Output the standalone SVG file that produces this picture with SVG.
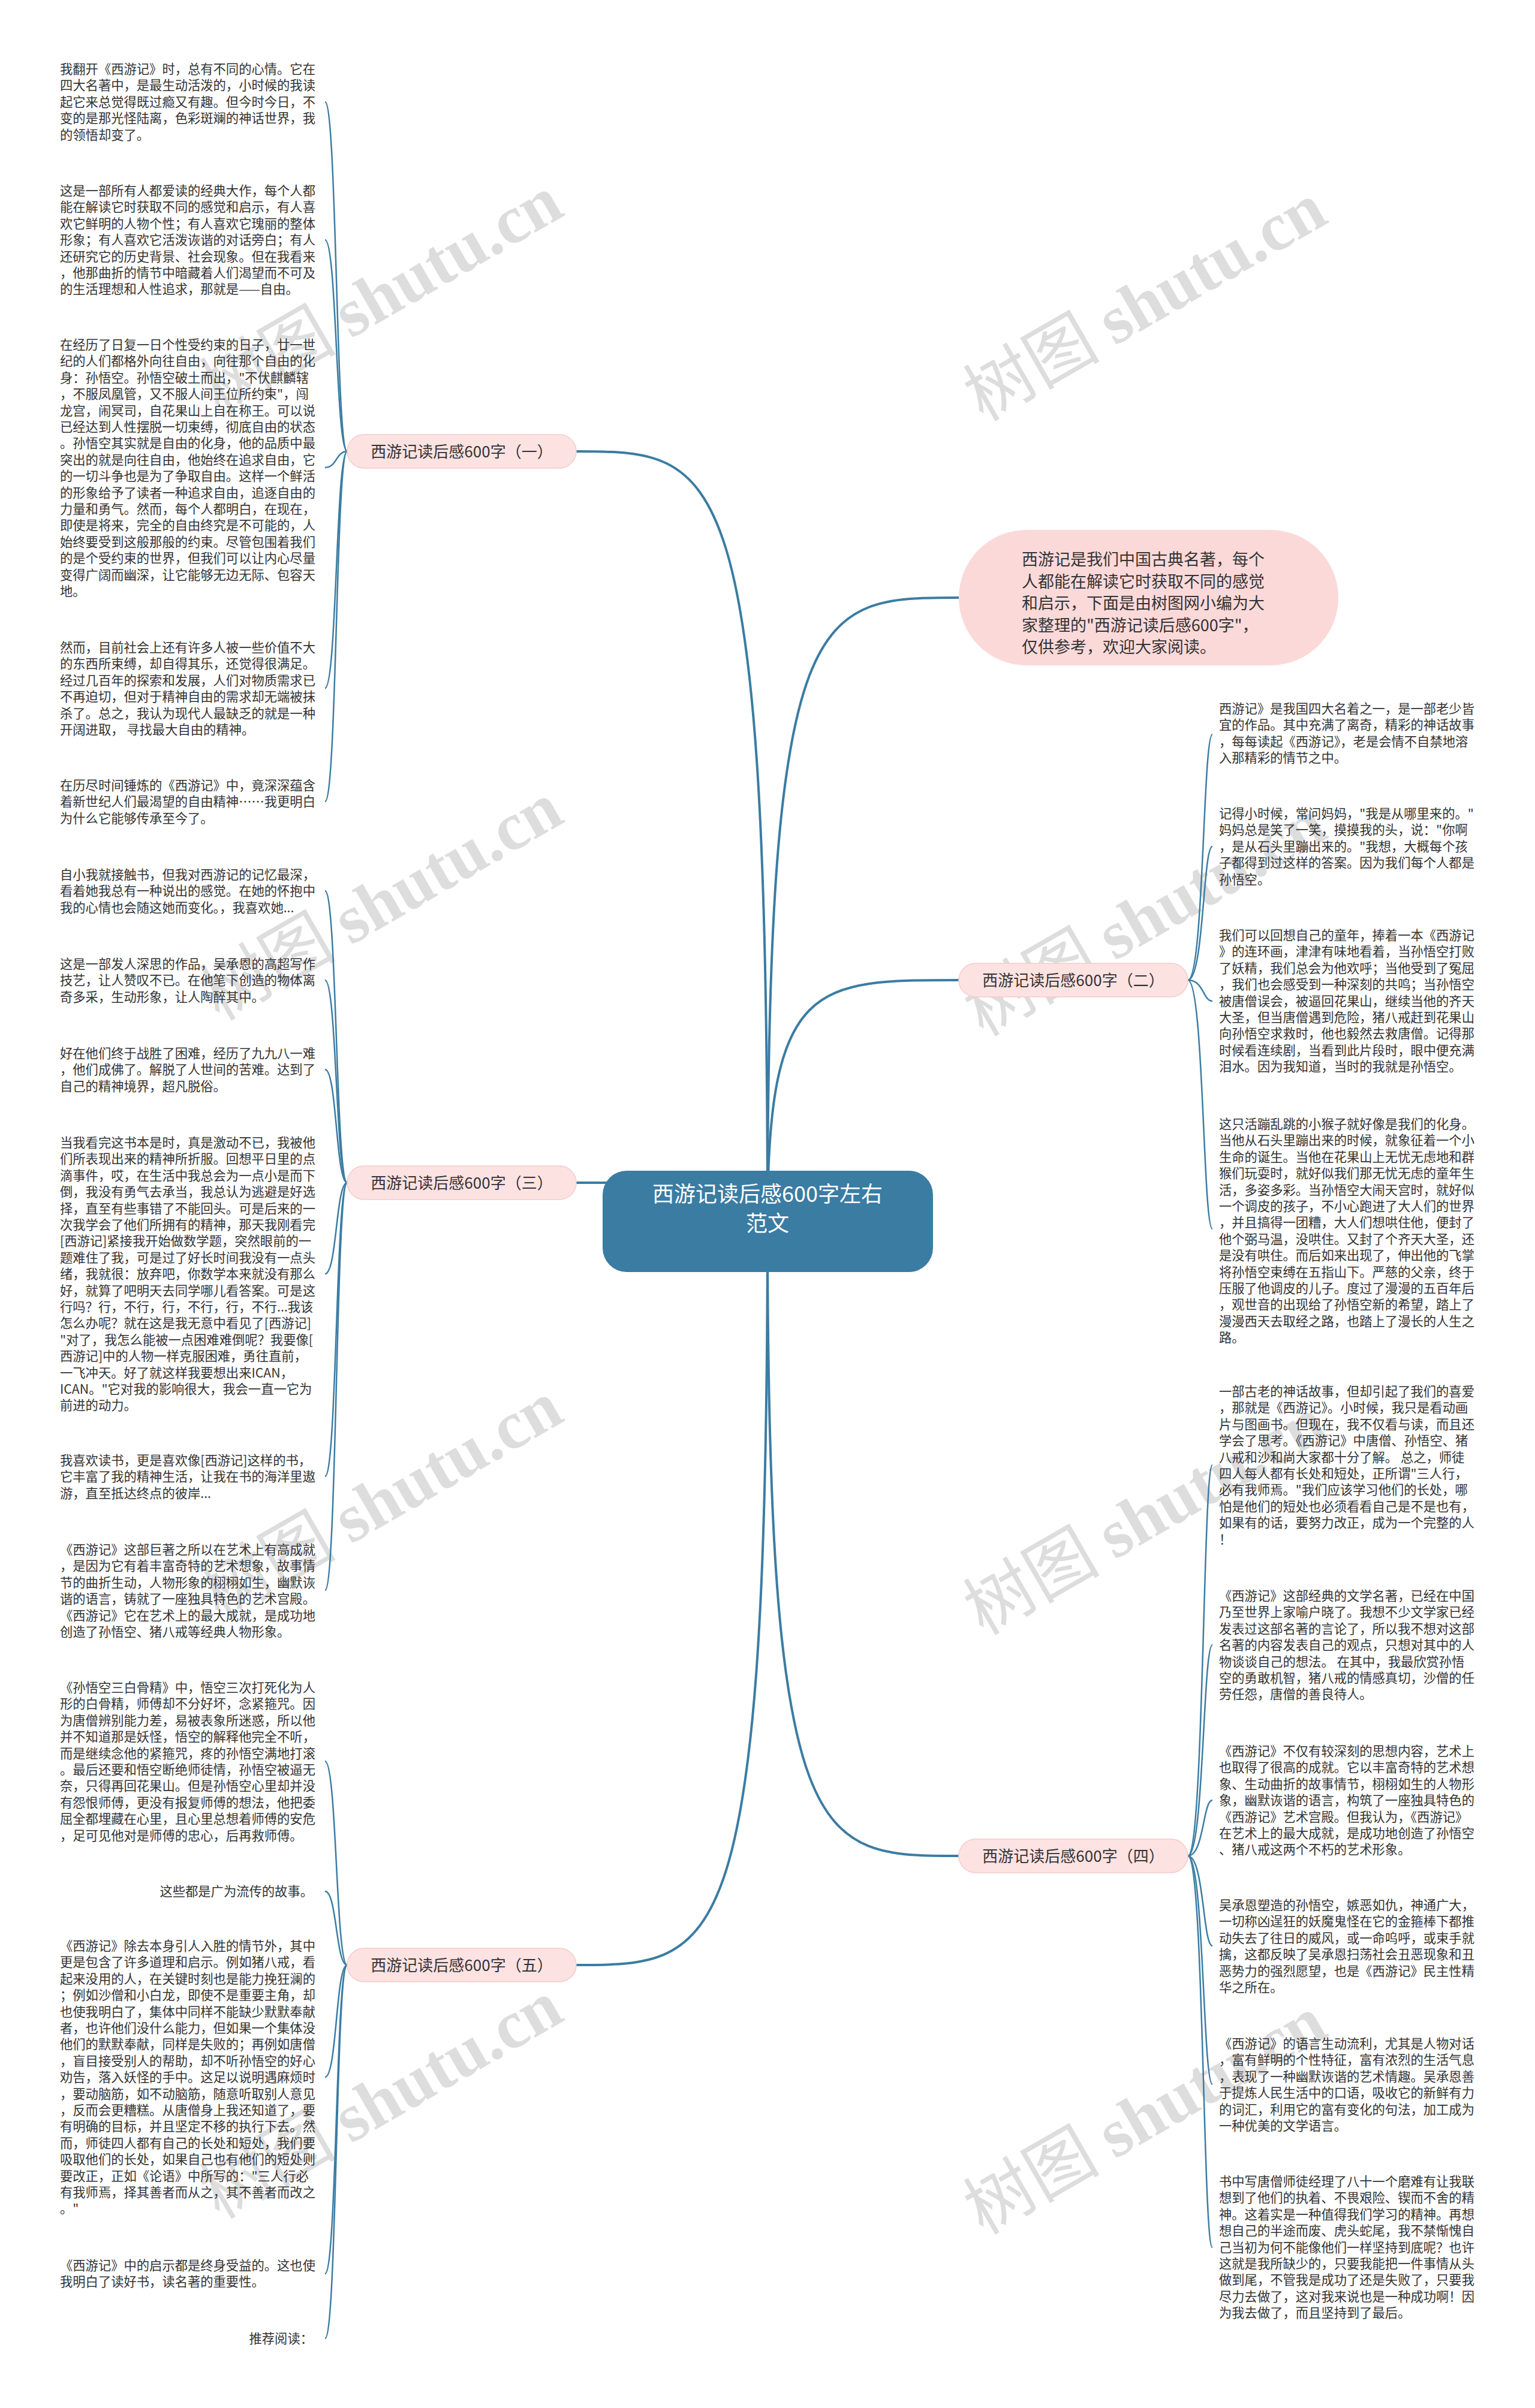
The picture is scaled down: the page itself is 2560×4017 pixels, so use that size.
<svg xmlns="http://www.w3.org/2000/svg" width="2560" height="4017" viewBox="0 0 2560 4017">
<style>
.t{font-family:"Noto Sans CJK SC","Noto Sans",sans-serif;font-size:21.3px;fill:#333}
.b{font-family:"Noto Sans CJK SC","Noto Sans",sans-serif;font-size:26px;fill:#333;text-anchor:middle}
.c{font-family:"Noto Sans CJK SC","Noto Sans",sans-serif;font-size:36px;fill:#fff;text-anchor:middle}
.i{font-family:"Noto Sans CJK SC","Noto Sans",sans-serif;font-size:27px;fill:#333}
.wm{font-family:"Noto Sans CJK SC",sans-serif;font-size:114px;fill:#c8c8c8;opacity:0.6;text-anchor:middle}
.wm .s{font-family:"Liberation Serif",serif;font-weight:bold}
.m{fill:none;stroke:#3b7ca3;stroke-width:4}
.l{fill:none;stroke:#3b7ca3;stroke-width:2.5}
.bn{fill:#fde2e2;stroke:#f7caca;stroke-width:1.5}
</style>
<g id="watermarks">
<text class="wm" transform="translate(655,525) rotate(-30)">树图 <tspan class="s">shutu.cn</tspan></text>
<text class="wm" transform="translate(1929,537) rotate(-30)">树图 <tspan class="s">shutu.cn</tspan></text>
<text class="wm" transform="translate(655,1537) rotate(-30)">树图 <tspan class="s">shutu.cn</tspan></text>
<text class="wm" transform="translate(1929,1563) rotate(-30)">树图 <tspan class="s">shutu.cn</tspan></text>
<text class="wm" transform="translate(655,2536) rotate(-30)">树图 <tspan class="s">shutu.cn</tspan></text>
<text class="wm" transform="translate(1929,2562) rotate(-30)">树图 <tspan class="s">shutu.cn</tspan></text>
<text class="wm" transform="translate(655,3536) rotate(-30)">树图 <tspan class="s">shutu.cn</tspan></text>
<text class="wm" transform="translate(1929,3562) rotate(-30)">树图 <tspan class="s">shutu.cn</tspan></text>
</g>
<g id="connectors">
<path class="m" d="M1280,2037 C1280,753 1200,753 961,753"/>
<path class="m" d="M1280,2037 C1280,1973 1200,1973 961,1973"/>
<path class="m" d="M1280,2037 C1280,3278 1200,3278 961,3278"/>
<path class="m" d="M1280,2037 C1280,997 1360,997 1599,997"/>
<path class="m" d="M1280,2037 C1280,1635 1360,1635 1599,1635"/>
<path class="m" d="M1280,2037 C1280,3096 1360,3096 1599,3096"/>
<path class="l" d="M579,753 C560,753 562,170 542,170"/>
<path class="l" d="M579,753 C560,753 562,400 542,400"/>
<path class="l" d="M579,753 C560,753 562,780 542,780"/>
<path class="l" d="M579,753 C560,753 562,1148 542,1148"/>
<path class="l" d="M579,753 C560,753 562,1337 542,1337"/>
<path class="l" d="M579,1973 C560,1973 562,1486 542,1486"/>
<path class="l" d="M579,1973 C560,1973 562,1635 542,1635"/>
<path class="l" d="M579,1973 C560,1973 562,1784 542,1784"/>
<path class="l" d="M579,1973 C560,1973 562,2125 542,2125"/>
<path class="l" d="M579,1973 C560,1973 562,2463 542,2463"/>
<path class="l" d="M579,1973 C560,1973 562,2653 542,2653"/>
<path class="l" d="M579,3278 C560,3278 562,2938 542,2938"/>
<path class="l" d="M579,3278 C560,3278 562,3155 542,3155"/>
<path class="l" d="M579,3278 C560,3278 562,3465 542,3465"/>
<path class="l" d="M579,3278 C560,3278 562,3793 542,3793"/>
<path class="l" d="M579,3278 C560,3278 562,3901 542,3901"/>
<path class="l" d="M1981,1635 C2008,1635 2006,1225 2022,1225"/>
<path class="l" d="M1981,1635 C2008,1635 2006,1412 2022,1412"/>
<path class="l" d="M1981,1635 C2008,1635 2006,1670 2022,1670"/>
<path class="l" d="M1981,1635 C2008,1635 2006,2050 2022,2050"/>
<path class="l" d="M1981,3096 C2008,3096 2006,2444 2022,2444"/>
<path class="l" d="M1981,3096 C2008,3096 2006,2744 2022,2744"/>
<path class="l" d="M1981,3096 C2008,3096 2006,3003 2022,3003"/>
<path class="l" d="M1981,3096 C2008,3096 2006,3246 2022,3246"/>
<path class="l" d="M1981,3096 C2008,3096 2006,3477 2022,3477"/>
<path class="l" d="M1981,3096 C2008,3096 2006,3749 2022,3749"/>
</g>
<g id="center">
<rect x="1005" y="1953" width="551" height="169" rx="40" fill="#3b7ca3"/>
<text class="c" x="1280" y="2005">西游记读后感600字左右</text>
<text class="c" x="1280" y="2054">范文</text>
</g>
<g id="intro">
<rect x="1599" y="884" width="633" height="226" rx="113" fill="#fcd9d9"/>
<text class="i" x="1704" y="943"><tspan x="1704">西游记是我们中国古典名著，每个</tspan><tspan x="1704" dy="36.5">人都能在解读它时获取不同的感觉</tspan><tspan x="1704" dy="36.5">和启示，下面是由树图网小编为大</tspan><tspan x="1704" dy="36.5">家整理的"西游记读后感600字"，</tspan><tspan x="1704" dy="36.5">仅供参考，欢迎大家阅读。</tspan></text>
</g>
<g id="branch1"><rect class="bn" x="579" y="725" width="382" height="56" rx="28"/><text class="b" x="770" y="763">西游记读后感600字（一）</text></g>
<g id="branch2"><rect class="bn" x="1599" y="1607" width="382" height="56" rx="28"/><text class="b" x="1790" y="1645">西游记读后感600字（二）</text></g>
<g id="branch3"><rect class="bn" x="579" y="1945" width="382" height="56" rx="28"/><text class="b" x="770" y="1983">西游记读后感600字（三）</text></g>
<g id="branch4"><rect class="bn" x="1599" y="3068" width="382" height="56" rx="28"/><text class="b" x="1790" y="3106">西游记读后感600字（四）</text></g>
<g id="branch5"><rect class="bn" x="579" y="3250" width="382" height="56" rx="28"/><text class="b" x="770" y="3288">西游记读后感600字（五）</text></g>
<g id="leaf-l1"><text class="t" y="123"><tspan x="100">我翻开《西游记》时，总有不同的心情。它在</tspan><tspan x="100" dy="27.4">四大名著中，是最生动活泼的，小时候的我读</tspan><tspan x="100" dy="27.4">起它来总觉得既过瘾又有趣。但今时今日，不</tspan><tspan x="100" dy="27.4">变的是那光怪陆离，色彩斑斓的神话世界，我</tspan><tspan x="100" dy="27.4">的领悟却变了。</tspan></text></g>
<g id="leaf-l2"><text class="t" y="326"><tspan x="100">这是一部所有人都爱读的经典大作，每个人都</tspan><tspan x="100" dy="27.4">能在解读它时获取不同的感觉和启示，有人喜</tspan><tspan x="100" dy="27.4">欢它鲜明的人物个性；有人喜欢它瑰丽的整体</tspan><tspan x="100" dy="27.4">形象；有人喜欢它活泼诙谐的对话旁白；有人</tspan><tspan x="100" dy="27.4">还研究它的历史背景、社会现象。但在我看来</tspan><tspan x="100" dy="27.4">，他那曲折的情节中暗藏着人们渴望而不可及</tspan><tspan x="100" dy="27.4">的生活理想和人性追求，那就是——自由。</tspan></text></g>
<g id="leaf-l3"><text class="t" y="583"><tspan x="100">在经历了日复一日个性受约束的日子，廿一世</tspan><tspan x="100" dy="27.4">纪的人们都格外向往自由，向往那个自由的化</tspan><tspan x="100" dy="27.4">身：孙悟空。孙悟空破土而出，"不伏麒麟辖</tspan><tspan x="100" dy="27.4">，不服凤凰管，又不服人间王位所约束"，闯</tspan><tspan x="100" dy="27.4">龙宫，闹冥司，自花果山上自在称王。可以说</tspan><tspan x="100" dy="27.4">已经达到人性摆脱一切束缚，彻底自由的状态</tspan><tspan x="100" dy="27.4">。孙悟空其实就是自由的化身，他的品质中最</tspan><tspan x="100" dy="27.4">突出的就是向往自由，他始终在追求自由，它</tspan><tspan x="100" dy="27.4">的一切斗争也是为了争取自由。这样一个鲜活</tspan><tspan x="100" dy="27.4">的形象给予了读者一种追求自由，追逐自由的</tspan><tspan x="100" dy="27.4">力量和勇气。然而，每个人都明白，在现在，</tspan><tspan x="100" dy="27.4">即使是将来，完全的自由终究是不可能的，人</tspan><tspan x="100" dy="27.4">始终要受到这般那般的约束。尽管包围着我们</tspan><tspan x="100" dy="27.4">的是个受约束的世界，但我们可以让内心尽量</tspan><tspan x="100" dy="27.4">变得广阔而幽深，让它能够无边无际、包容天</tspan><tspan x="100" dy="27.4">地。</tspan></text></g>
<g id="leaf-l4"><text class="t" y="1088"><tspan x="100">然而，目前社会上还有许多人被一些价值不大</tspan><tspan x="100" dy="27.4">的东西所束缚，却自得其乐，还觉得很满足。</tspan><tspan x="100" dy="27.4">经过几百年的探索和发展，人们对物质需求已</tspan><tspan x="100" dy="27.4">不再迫切，但对于精神自由的需求却无端被抹</tspan><tspan x="100" dy="27.4">杀了。总之，我认为现代人最缺乏的就是一种</tspan><tspan x="100" dy="27.4">开阔进取， 寻找最大自由的精神。</tspan></text></g>
<g id="leaf-l5"><text class="t" y="1318"><tspan x="100">在历尽时间锤炼的《西游记》中，竟深深蕴含</tspan><tspan x="100" dy="27.4">着新世纪人们最渴望的自由精神……我更明白</tspan><tspan x="100" dy="27.4">为什么它能够传承至今了。</tspan></text></g>
<g id="leaf-l6"><text class="t" y="1467"><tspan x="100">自小我就接触书，但我对西游记的记忆最深，</tspan><tspan x="100" dy="27.4">看着她我总有一种说出的感觉。在她的怀抱中</tspan><tspan x="100" dy="27.4">我的心情也会随这她而变化。，我喜欢她...</tspan></text></g>
<g id="leaf-l7"><text class="t" y="1616"><tspan x="100">这是一部发人深思的作品，吴承恩的高超写作</tspan><tspan x="100" dy="27.4">技艺，让人赞叹不已。在他笔下创造的物体离</tspan><tspan x="100" dy="27.4">奇多采，生动形象，让人陶醉其中。</tspan></text></g>
<g id="leaf-l8"><text class="t" y="1765"><tspan x="100">好在他们终于战胜了困难，经历了九九八一难</tspan><tspan x="100" dy="27.4">，他们成佛了。解脱了人世间的苦难。达到了</tspan><tspan x="100" dy="27.4">自己的精神境界，超凡脱俗。</tspan></text></g>
<g id="leaf-l9"><text class="t" y="1914"><tspan x="100">当我看完这书本是时，真是激动不已，我被他</tspan><tspan x="100" dy="27.4">们所表现出来的精神所折服。回想平日里的点</tspan><tspan x="100" dy="27.4">滴事件，哎，在生活中我总会为一点小是而下</tspan><tspan x="100" dy="27.4">倒，我没有勇气去承当，我总认为逃避是好选</tspan><tspan x="100" dy="27.4">择，直至有些事错了不能回头。可是后来的一</tspan><tspan x="100" dy="27.4">次我学会了他们所拥有的精神，那天我刚看完</tspan><tspan x="100" dy="27.4">[西游记]紧接我开始做数学题，突然眼前的一</tspan><tspan x="100" dy="27.4">题难住了我，可是过了好长时间我没有一点头</tspan><tspan x="100" dy="27.4">绪，我就很：放弃吧，你数学本来就没有那么</tspan><tspan x="100" dy="27.4">好，就算了吧明天去同学哪儿看答案。可是这</tspan><tspan x="100" dy="27.4">行吗？行，不行，行，不行，行，不行...我该</tspan><tspan x="100" dy="27.4">怎么办呢？就在这是我无意中看见了[西游记]</tspan><tspan x="100" dy="27.4">"对了，我怎么能被一点困难难倒呢？我要像[</tspan><tspan x="100" dy="27.4">西游记]中的人物一样克服困难，勇往直前，</tspan><tspan x="100" dy="27.4">一飞冲天。好了就这样我要想出来ICAN，</tspan><tspan x="100" dy="27.4">ICAN。"它对我的影响很大，我会一直一它为</tspan><tspan x="100" dy="27.4">前进的动力。</tspan></text></g>
<g id="leaf-l10"><text class="t" y="2444"><tspan x="100">我喜欢读书，更是喜欢像[西游记]这样的书，</tspan><tspan x="100" dy="27.4">它丰富了我的精神生活，让我在书的海洋里遨</tspan><tspan x="100" dy="27.4">游，直至抵达终点的彼岸...</tspan></text></g>
<g id="leaf-l11"><text class="t" y="2593"><tspan x="100">《西游记》这部巨著之所以在艺术上有高成就</tspan><tspan x="100" dy="27.4">，是因为它有着丰富奇特的艺术想象，故事情</tspan><tspan x="100" dy="27.4">节的曲折生动，人物形象的栩栩如生，幽默诙</tspan><tspan x="100" dy="27.4">谐的语言，铸就了一座独具特色的艺术宫殿。</tspan><tspan x="100" dy="27.4">《西游记》它在艺术上的最大成就，是成功地</tspan><tspan x="100" dy="27.4">创造了孙悟空、猪八戒等经典人物形象。</tspan></text></g>
<g id="leaf-l12"><text class="t" y="2823"><tspan x="100">《孙悟空三白骨精》中，悟空三次打死化为人</tspan><tspan x="100" dy="27.4">形的白骨精，师傅却不分好坏，念紧箍咒。因</tspan><tspan x="100" dy="27.4">为唐僧辨别能力差，易被表象所迷惑，所以他</tspan><tspan x="100" dy="27.4">并不知道那是妖怪，悟空的解释他完全不听，</tspan><tspan x="100" dy="27.4">而是继续念他的紧箍咒，疼的孙悟空满地打滚</tspan><tspan x="100" dy="27.4">。最后还要和悟空断绝师徒情，孙悟空被逼无</tspan><tspan x="100" dy="27.4">奈，只得再回花果山。但是孙悟空心里却并没</tspan><tspan x="100" dy="27.4">有怨恨师傅，更没有报复师傅的想法，他把委</tspan><tspan x="100" dy="27.4">屈全都埋藏在心里，且心里总想着师傅的安危</tspan><tspan x="100" dy="27.4">，足可见他对是师傅的忠心，后再救师傅。</tspan></text></g>
<g id="leaf-l13"><text class="t" x="522" y="3163" text-anchor="end">这些都是广为流传的故事。</text></g>
<g id="leaf-l14"><text class="t" y="3254"><tspan x="100">《西游记》除去本身引人入胜的情节外，其中</tspan><tspan x="100" dy="27.4">更是包含了许多道理和启示。例如猪八戒，看</tspan><tspan x="100" dy="27.4">起来没用的人，在关键时刻也是能力挽狂澜的</tspan><tspan x="100" dy="27.4">；例如沙僧和小白龙，即使不是重要主角，却</tspan><tspan x="100" dy="27.4">也使我明白了，集体中同样不能缺少默默奉献</tspan><tspan x="100" dy="27.4">者，也许他们没什么能力，但如果一个集体没</tspan><tspan x="100" dy="27.4">他们的默默奉献，同样是失败的；再例如唐僧</tspan><tspan x="100" dy="27.4">，盲目接受别人的帮助，却不听孙悟空的好心</tspan><tspan x="100" dy="27.4">劝告，落入妖怪的手中。这足以说明遇麻烦时</tspan><tspan x="100" dy="27.4">，要动脑筋，如不动脑筋，随意听取别人意见</tspan><tspan x="100" dy="27.4">，反而会更糟糕。从唐僧身上我还知道了，要</tspan><tspan x="100" dy="27.4">有明确的目标，并且坚定不移的执行下去。然</tspan><tspan x="100" dy="27.4">而，师徒四人都有自己的长处和短处，我们要</tspan><tspan x="100" dy="27.4">吸取他们的长处，如果自己也有他们的短处则</tspan><tspan x="100" dy="27.4">要改正，正如《论语》中所写的："三人行必</tspan><tspan x="100" dy="27.4">有我师焉，择其善者而从之，其不善者而改之</tspan><tspan x="100" dy="27.4">。"</tspan></text></g>
<g id="leaf-l15"><text class="t" y="3787"><tspan x="100">《西游记》中的启示都是终身受益的。这也使</tspan><tspan x="100" dy="27.4">我明白了读好书，读名著的重要性。</tspan></text></g>
<g id="leaf-l16"><text class="t" x="522" y="3909" text-anchor="end">推荐阅读：</text></g>
<g id="leaf-r1"><text class="t" y="1190"><tspan x="2033">西游记》是我国四大名着之一，是一部老少皆</tspan><tspan x="2033" dy="27.4">宜的作品。其中充满了离奇，精彩的神话故事</tspan><tspan x="2033" dy="27.4">，每每读起《西游记》，老是会情不自禁地溶</tspan><tspan x="2033" dy="27.4">入那精彩的情节之中。</tspan></text></g>
<g id="leaf-r2"><text class="t" y="1365"><tspan x="2033">记得小时候，常问妈妈，"我是从哪里来的。"</tspan><tspan x="2033" dy="27.4">妈妈总是笑了一笑，摸摸我的头，说："你啊</tspan><tspan x="2033" dy="27.4">，是从石头里蹦出来的。"我想，大概每个孩</tspan><tspan x="2033" dy="27.4">子都得到过这样的答案。因为我们每个人都是</tspan><tspan x="2033" dy="27.4">孙悟空。</tspan></text></g>
<g id="leaf-r3"><text class="t" y="1568"><tspan x="2033">我们可以回想自己的童年，捧着一本《西游记</tspan><tspan x="2033" dy="27.4">》的连环画，津津有味地看着，当孙悟空打败</tspan><tspan x="2033" dy="27.4">了妖精，我们总会为他欢呼；当他受到了冤屈</tspan><tspan x="2033" dy="27.4">，我们也会感受到一种深刻的共鸣；当孙悟空</tspan><tspan x="2033" dy="27.4">被唐僧误会，被逼回花果山，继续当他的齐天</tspan><tspan x="2033" dy="27.4">大圣，但当唐僧遇到危险，猪八戒赶到花果山</tspan><tspan x="2033" dy="27.4">向孙悟空求救时，他也毅然去救唐僧。记得那</tspan><tspan x="2033" dy="27.4">时候看连续剧，当看到此片段时，眼中便充满</tspan><tspan x="2033" dy="27.4">泪水。因为我知道，当时的我就是孙悟空。</tspan></text></g>
<g id="leaf-r4"><text class="t" y="1883"><tspan x="2033">这只活蹦乱跳的小猴子就好像是我们的化身。</tspan><tspan x="2033" dy="27.4">当他从石头里蹦出来的时候，就象征着一个小</tspan><tspan x="2033" dy="27.4">生命的诞生。当他在花果山上无忧无虑地和群</tspan><tspan x="2033" dy="27.4">猴们玩耍时，就好似我们那无忧无虑的童年生</tspan><tspan x="2033" dy="27.4">活，多姿多彩。当孙悟空大闹天宫时，就好似</tspan><tspan x="2033" dy="27.4">一个调皮的孩子，不小心跑进了大人们的世界</tspan><tspan x="2033" dy="27.4">，并且搞得一团糟，大人们想哄住他，便封了</tspan><tspan x="2033" dy="27.4">他个弼马温，没哄住。又封了个齐天大圣，还</tspan><tspan x="2033" dy="27.4">是没有哄住。而后如来出现了，伸出他的飞掌</tspan><tspan x="2033" dy="27.4">将孙悟空束缚在五指山下。严慈的父亲，终于</tspan><tspan x="2033" dy="27.4">压服了他调皮的儿子。度过了漫漫的五百年后</tspan><tspan x="2033" dy="27.4">，观世音的出现给了孙悟空新的希望，踏上了</tspan><tspan x="2033" dy="27.4">漫漫西天去取经之路，也踏上了漫长的人生之</tspan><tspan x="2033" dy="27.4">路。</tspan></text></g>
<g id="leaf-r5"><text class="t" y="2329"><tspan x="2033">一部古老的神话故事，但却引起了我们的喜爱</tspan><tspan x="2033" dy="27.4">，那就是《西游记》。小时候，我只是看动画</tspan><tspan x="2033" dy="27.4">片与图画书。但现在，我不仅看与读，而且还</tspan><tspan x="2033" dy="27.4">学会了思考。《西游记》中唐僧、孙悟空、猪</tspan><tspan x="2033" dy="27.4">八戒和沙和尚大家都十分了解。 总之，师徒</tspan><tspan x="2033" dy="27.4">四人每人都有长处和短处，正所谓"三人行，</tspan><tspan x="2033" dy="27.4">必有我师焉。"我们应该学习他们的长处，哪</tspan><tspan x="2033" dy="27.4">怕是他们的短处也必须看看自己是不是也有，</tspan><tspan x="2033" dy="27.4">如果有的话，要努力改正，成为一个完整的人</tspan><tspan x="2033" dy="27.4">！</tspan></text></g>
<g id="leaf-r6"><text class="t" y="2670"><tspan x="2033">《西游记》这部经典的文学名著，已经在中国</tspan><tspan x="2033" dy="27.4">乃至世界上家喻户晓了。我想不少文学家已经</tspan><tspan x="2033" dy="27.4">发表过这部名著的言论了，所以我不想对这部</tspan><tspan x="2033" dy="27.4">名著的内容发表自己的观点，只想对其中的人</tspan><tspan x="2033" dy="27.4">物谈谈自己的想法。 在其中，我最欣赏孙悟</tspan><tspan x="2033" dy="27.4">空的勇敢机智，猪八戒的情感真切，沙僧的任</tspan><tspan x="2033" dy="27.4">劳任怨，唐僧的善良待人。</tspan></text></g>
<g id="leaf-r7"><text class="t" y="2929"><tspan x="2033">《西游记》不仅有较深刻的思想内容，艺术上</tspan><tspan x="2033" dy="27.4">也取得了很高的成就。它以丰富奇特的艺术想</tspan><tspan x="2033" dy="27.4">象、生动曲折的故事情节，栩栩如生的人物形</tspan><tspan x="2033" dy="27.4">象，幽默诙谐的语言，构筑了一座独具特色的</tspan><tspan x="2033" dy="27.4">《西游记》艺术宫殿。但我认为，《西游记》</tspan><tspan x="2033" dy="27.4">在艺术上的最大成就，是成功地创造了孙悟空</tspan><tspan x="2033" dy="27.4">、猪八戒这两个不朽的艺术形象。</tspan></text></g>
<g id="leaf-r8"><text class="t" y="3186"><tspan x="2033">吴承恩塑造的孙悟空，嫉恶如仇，神通广大，</tspan><tspan x="2033" dy="27.4">一切称凶逞狂的妖魔鬼怪在它的金箍棒下都推</tspan><tspan x="2033" dy="27.4">动失去了往日的威风，或一命呜呼，或束手就</tspan><tspan x="2033" dy="27.4">擒，这都反映了吴承恩扫荡社会丑恶现象和丑</tspan><tspan x="2033" dy="27.4">恶势力的强烈愿望，也是《西游记》民主性精</tspan><tspan x="2033" dy="27.4">华之所在。</tspan></text></g>
<g id="leaf-r9"><text class="t" y="3417"><tspan x="2033">《西游记》的语言生动流利，尤其是人物对话</tspan><tspan x="2033" dy="27.4">，富有鲜明的个性特征，富有浓烈的生活气息</tspan><tspan x="2033" dy="27.4">，表现了一种幽默诙谐的艺术情趣。吴承恩善</tspan><tspan x="2033" dy="27.4">于提炼人民生活中的口语，吸收它的新鲜有力</tspan><tspan x="2033" dy="27.4">的词汇，利用它的富有变化的句法，加工成为</tspan><tspan x="2033" dy="27.4">一种优美的文学语言。</tspan></text></g>
<g id="leaf-r10"><text class="t" y="3647"><tspan x="2033">书中写唐僧师徒经理了八十一个磨难有让我联</tspan><tspan x="2033" dy="27.4">想到了他们的执着、不畏艰险、锲而不舍的精</tspan><tspan x="2033" dy="27.4">神。这着实是一种值得我们学习的精神。再想</tspan><tspan x="2033" dy="27.4">想自己的半途而废、虎头蛇尾，我不禁惭愧自</tspan><tspan x="2033" dy="27.4">己当初为何不能像他们一样坚持到底呢？也许</tspan><tspan x="2033" dy="27.4">这就是我所缺少的，只要我能把一件事情从头</tspan><tspan x="2033" dy="27.4">做到尾，不管我是成功了还是失败了，只要我</tspan><tspan x="2033" dy="27.4">尽力去做了，这对我来说也是一种成功啊！因</tspan><tspan x="2033" dy="27.4">为我去做了，而且坚持到了最后。</tspan></text></g>
</svg>
